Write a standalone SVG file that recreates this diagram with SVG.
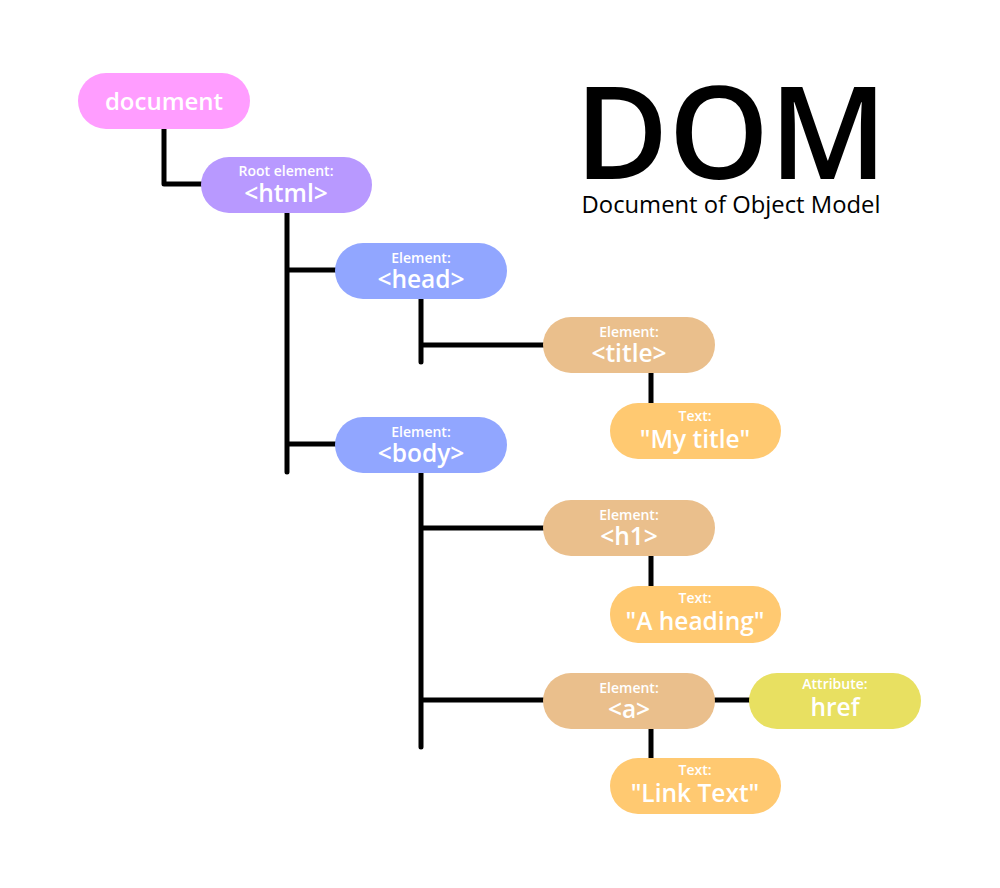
<svg xmlns="http://www.w3.org/2000/svg" width="1000" height="888" viewBox="0 0 1000 888">
<style>
.lnk{fill:none;stroke:#000;stroke-width:5;stroke-linecap:round;stroke-linejoin:round}
.t{font-family:"Open Sans","Noto Sans",sans-serif;fill:#fff;text-anchor:middle}
.s{font-size:14px;font-weight:600}
.b{font-size:24.5px;font-weight:600}
.h{font-family:"Open Sans","Noto Sans",sans-serif;fill:#000;text-anchor:middle}
</style>
<rect width="1000" height="888" fill="#fff"/>
<g id="connectors">
<path class="lnk" d="M164 129 V184 H202"/>
<path class="lnk" d="M287 213 V472 M287 270 H336 M287 444 H336"/>
<path class="lnk" d="M421 299 V362 M421 345 H544"/>
<path class="lnk" d="M421 473 V747 M421 528 H544 M421 700 H544"/>
<path class="lnk" d="M651 373 V404 M651 556 V587 M651 729 V759 M715 700 H750"/>
</g>
<g id="heading-dom">
<text class="h" x="731" y="179" font-size="128" font-weight="600">DOM</text>
<text class="h" x="731" y="213" font-size="23.8">Document of Object Model</text>
</g>
<g id="document"><rect x="78" y="73" width="172" height="56" rx="28" fill="#FF9DFF"/><text class="t" x="164" y="110" font-size="24" font-weight="600">document</text></g>
<g id="html"><rect x="201" y="157" width="171" height="56" rx="28" fill="#B899FF"/><text class="t s" x="286" y="176">Root element:</text><text class="t b" x="286" y="202">&lt;html&gt;</text></g>
<g id="head"><rect x="335" y="243" width="172" height="56" rx="28" fill="#91A6FF"/><text class="t s" x="421" y="263">Element:</text><text class="t b" x="421" y="288">&lt;head&gt;</text></g>
<g id="body"><rect x="335" y="417" width="172" height="56" rx="28" fill="#91A6FF"/><text class="t s" x="421" y="437">Element:</text><text class="t b" x="421" y="462">&lt;body&gt;</text></g>
<g id="title-el"><rect x="543" y="317" width="172" height="56" rx="28" fill="#EABF8C"/><text class="t s" x="629" y="337">Element:</text><text class="t b" x="629" y="362">&lt;title&gt;</text></g>
<g id="mytitle"><rect x="610" y="403" width="171" height="56" rx="28" fill="#FFC971"/><text class="t s" x="695" y="421">Text:</text><text class="t b" x="695" y="448">"My title"</text></g>
<g id="h1"><rect x="543" y="500" width="172" height="56" rx="28" fill="#EABF8C"/><text class="t s" x="629" y="520">Element:</text><text class="t b" x="629" y="545">&lt;h1&gt;</text></g>
<g id="heading"><rect x="610" y="586" width="171" height="57" rx="28" fill="#FFC971"/><text class="t s" x="695" y="603">Text:</text><text class="t b" x="695" y="630">"A heading"</text></g>
<g id="a"><rect x="543" y="673" width="172" height="56" rx="28" fill="#EABF8C"/><text class="t s" x="629" y="693">Element:</text><text class="t b" x="629" y="718">&lt;a&gt;</text></g>
<g id="href"><rect x="749" y="673" width="172" height="56" rx="28" fill="#E8E061"/><text class="t s" x="835" y="689">Attribute:</text><text class="t b" x="835" y="716">href</text></g>
<g id="linktext"><rect x="610" y="758" width="171" height="56" rx="28" fill="#FFC971"/><text class="t s" x="695" y="775">Text:</text><text class="t b" x="695" y="802">"Link Text"</text></g>
</svg>
